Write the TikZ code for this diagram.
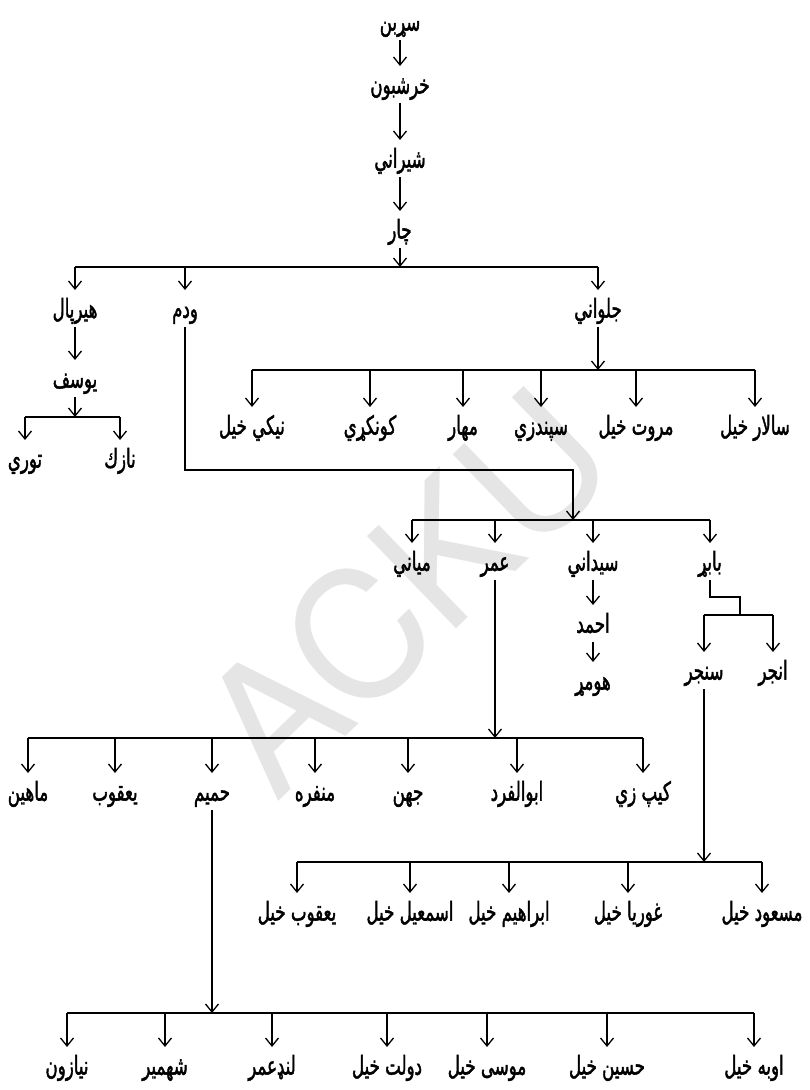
\documentclass[tikz,border=0pt]{standalone}
\usepackage{fontspec}
\newfontfamily\arabicfont[Script=Arabic, FakeStretch=0.64, FakeBold=1.6]{DejaVu Sans}
\newfontfamily\wmfont{TeX Gyre Heros}
\TeXXeTstate=1
\usetikzlibrary{arrows.meta}

\begin{document}
\begin{tikzpicture}[
                x = 0.5pt, y = -0.5pt,
                line width = 0.65pt,
                >={Straight Barb[length=4pt,width=6.5pt]},
                N/.style = {anchor=north, font=\fontsize{13}{15}\selectfont\arabicfont,
                            text height=12pt, text depth=3pt, inner sep=1.5pt,
                            execute at begin node=\beginR, execute at end node=\endR},
                W/.style = {font=\fontsize{88}{88}\selectfont\wmfont, text=black!10, rotate=44}
                    ]
                \useasboundingbox (0,0) rectangle (809,1090);
                \node[W] (wm) at (405,590) {ACKU};
                % bus lines
                \coordinate (b1) at (0,267);
                \coordinate (b2) at (0,417);
                \coordinate (b3) at (0,370);
                \coordinate (b4) at (0,520);
                \coordinate (b5) at (0,615);
                \coordinate (b6) at (0,862);
                \coordinate (b7) at (0,738);
                \coordinate (b8) at (0,1013);
                \coordinate (c1) at (573,470);
                \coordinate (c2) at (740,597);
                \begin{scope}[nodes=N]
                \node (1) at (400,3) {سړبن};
                \node (2) at (400,66) {خرشبون};
                \node (3) at (400,140) {شيراني};
                \node (4) at (400,211) {چار};
                \node (5) at (75,290) {هيرپال};
                \node (6) at (185,290) {ودم};
                \node (7) at (598,290) {جلواني};
                \node (8) at (75,360) {يوسف};
                \node (9) at (25,440) {توري};
                \node (10) at (120,440) {نازك};
                \node (11) at (252,407) {نيكي خيل};
                \node (12) at (370,407) {كونكړي};
                \node (13) at (463,407) {مهار};
                \node (14) at (541,407) {سپندزي};
                \node (15) at (636,407) {مروت خيل};
                \node (16) at (755,407) {سالار خيل};
                \node (17) at (412,543) {مياني};
                \node (18) at (495,543) {عمر};
                \node (19) at (593,543) {سيداني};
                \node (20) at (710,543) {بابړ};
                \node (21) at (593,605) {احمد};
                \node (22) at (593,662) {هومړ};
                \node (23) at (704,652) {سنجر};
                \node (24) at (773,652) {انجر};
                \node (25) at (28,773) {ماهين};
                \node (26) at (115,773) {يعقوب};
                \node (27) at (212,773) {حميم};
                \node (28) at (315,773) {منفره};
                \node (29) at (408,773) {جهن};
                \node (30) at (517,773) {ابوالفرد};
                \node (31) at (643,773) {كيپ زي};
                \node (32) at (297,893) {يعقوب خيل};
                \node (33) at (410,893) {اسمعيل خيل};
                \node (34) at (509,893) {ابراهيم خيل};
                \node (35) at (628,893) {غوريا خيل};
                \node (36) at (762,893) {مسعود خيل};
                \node (37) at (67,1047) {نيازون};
                \node (38) at (165,1047) {شهمير};
                \node (39) at (272,1047) {لنډعمر};
                \node (40) at (387,1047) {دولت خيل};
                \node (41) at (487,1047) {موسى خيل};
                \node (42) at (607,1047) {حسين خيل};
                \node (43) at (754,1047) {اوبه خيل};
                \end{scope}
                % top chain
                \draw[->] (1) to (2);
                \draw[->] (2) to (3);
                \draw[->] (3) to (4);
                \draw[->] (4) to (4 |- b1);
                \draw (b1 -| 5) to (b1 -| 7);
                \foreach \n in {5,6,7} \draw[->] (b1 -| \n) to (\n);
                % hairpal
                \draw[->] (5) to (8);
                \draw[->] (8) to (8 |- b2);
                \draw (b2 -| 9) to (b2 -| 10);
                \foreach \n in {9,10} \draw[->] (b2 -| \n) to (\n);
                % jalwani
                \draw[->] (7) to (7 |- b3);
                \draw (b3 -| 11) to (b3 -| 16);
                \foreach \n in {11,...,16} \draw[->] (b3 -| \n) to (\n);
                % widam
                \draw[->] (6) |- (c1) to (c1 |- b4);
                \draw (b4 -| 17) to (b4 -| 20);
                \foreach \n in {17,...,20} \draw[->] (b4 -| \n) to (\n);
                \draw[->] (19) to (21);
                \draw[->] (21) to (22);
                % babar
                \draw (20) |- (c2) to (c2 |- b5);
                \draw (b5 -| 23) to (b5 -| 24);
                \foreach \n in {23,24} \draw[->] (b5 -| \n) to (\n);
                % umar
                \draw[->] (18) to (18 |- b7);
                \draw (b7 -| 25) to (b7 -| 31);
                \foreach \n in {25,...,31} \draw[->] (b7 -| \n) to (\n);
                % sanjar
                \draw[->] (23) to (23 |- b6);
                \draw (b6 -| 32) to (b6 -| 36);
                \foreach \n in {32,...,36} \draw[->] (b6 -| \n) to (\n);
                % hamim
                \draw[->] (27) to (27 |- b8);
                \draw (b8 -| 37) to (b8 -| 43);
                \foreach \n in {37,...,43} \draw[->] (b8 -| \n) to (\n);
            \end{tikzpicture}
\end{document}
